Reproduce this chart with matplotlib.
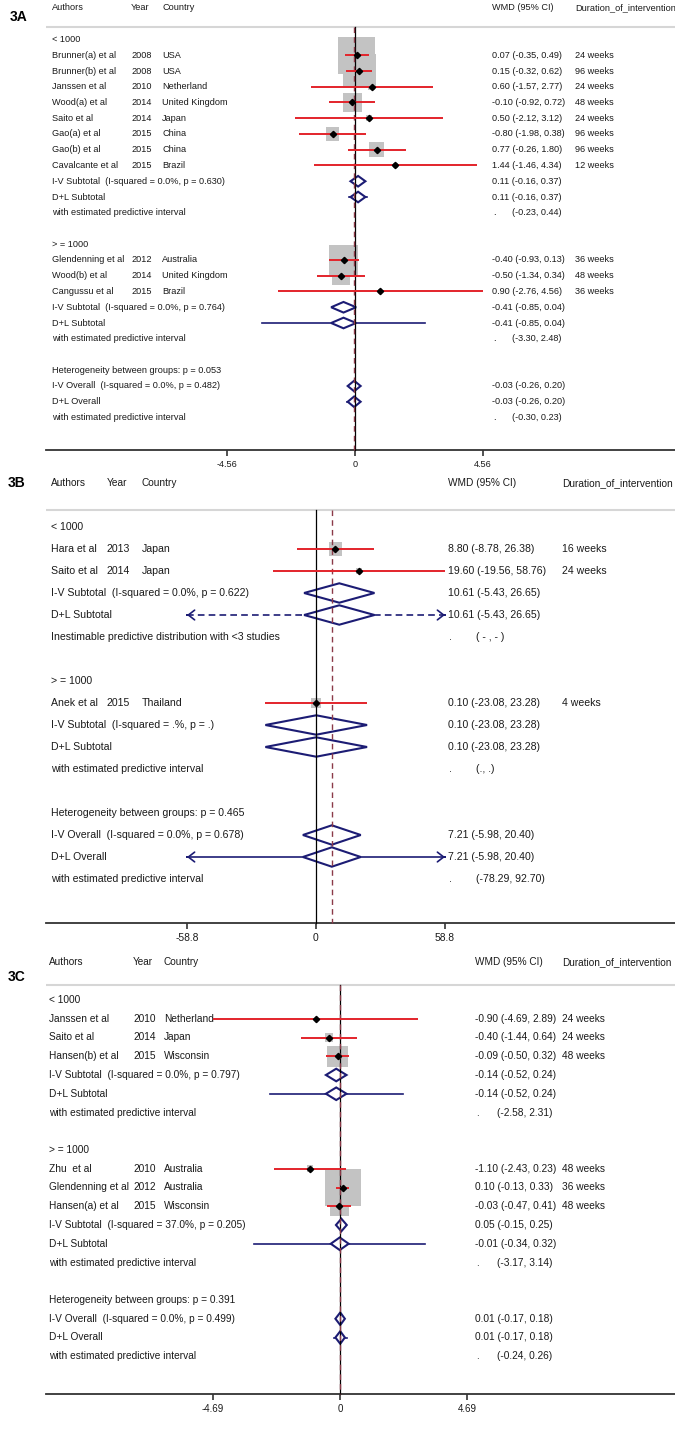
import numpy as np
import matplotlib
matplotlib.use("Agg")
import matplotlib.pyplot as plt
from matplotlib.patches import Rectangle, Polygon

plt.rcParams['font.family'] = ['Liberation Sans', 'DejaVu Sans']

W, H = 675, 1429
NAVY = '#1c1c74'
RED = '#e3242b'
BOX = '#c3c3c3'
REFLINE = '#8b3a48'
TXT = '#1a1a1a'

# ---------------- 3A ----------------
group_names_A = ["< 1000", "> = 1000"]
authors_A = ["Brunner(a) et al", "Brunner(b) et al", "Janssen et al", "Wood(a) et al",
             "Saito et al", "Gao(a) et al", "Gao(b) et al", "Cavalcante et al",
             "Glendenning et al", "Wood(b) et al", "Cangussu et al"]
years_A = [2008, 2008, 2010, 2014, 2014, 2015, 2015, 2015, 2012, 2014, 2015]
countries_A = ["USA", "USA", "Netherland", "United Kingdom", "Japan", "China", "China",
               "Brazil", "Australia", "United Kingdom", "Brazil"]
group_A = [0, 0, 0, 0, 0, 0, 0, 0, 1, 1, 1]
wmd_A = [0.07, 0.15, 0.60, -0.10, 0.50, -0.80, 0.77, 1.44, -0.40, -0.50, 0.90]
lo_A = [-0.35, -0.32, -1.57, -0.92, -2.12, -1.98, -0.26, -1.46, -0.93, -1.34, -2.76]
hi_A = [0.49, 0.62, 2.77, 0.72, 3.12, 0.38, 1.80, 4.34, 0.13, 0.34, 4.56]
weeks_A = [24, 96, 24, 48, 24, 96, 96, 12, 36, 48, 36]
sub_iv_A = [(0.11, -0.16, 0.37), (-0.41, -0.85, 0.04)]
sub_het_A = ["(I-squared = 0.0%, p = 0.630)", "(I-squared = 0.0%, p = 0.764)"]
sub_dl_A = [(0.11, -0.16, 0.37), (-0.41, -0.85, 0.04)]
sub_pred_A = [(-0.23, 0.44), (-3.30, 2.48)]
between_p_A = "0.053"
all_iv_A = (-0.03, -0.26, 0.20)
all_het_A = "(I-squared = 0.0%, p = 0.482)"
all_dl_A = (-0.03, -0.26, 0.20)
all_pred_A = (-0.30, 0.23)
ticks_A = [-4.56, 0, 4.56]
ticklabels_A = ["-4.56", "0", "4.56"]

# ---------------- 3B ----------------
group_names_B = ["< 1000", "> = 1000"]
authors_B = ["Hara et al", "Saito et al", "Anek et al"]
years_B = [2013, 2014, 2015]
countries_B = ["Japan", "Japan", "Thailand"]
group_B = [0, 0, 1]
wmd_B = [8.80, 19.60, 0.10]
lo_B = [-8.78, -19.56, -23.08]
hi_B = [26.38, 58.76, 23.28]
weeks_B = [16, 24, 4]
sub_iv_B = [(10.61, -5.43, 26.65), (0.10, -23.08, 23.28)]
sub_het_B = ["(I-squared = 0.0%, p = 0.622)", "(I-squared = .%, p = .)"]
sub_dl_B = [(10.61, -5.43, 26.65), (0.10, -23.08, 23.28)]
sub_pred_B = [(-np.inf, np.inf), (np.nan, np.nan)]   # inf: inestimable, nan: missing
between_p_B = "0.465"
all_iv_B = (7.21, -5.98, 20.40)
all_het_B = "(I-squared = 0.0%, p = 0.678)"
all_dl_B = (7.21, -5.98, 20.40)
all_pred_B = (-78.29, 92.70)
ticks_B = [-58.8, 0, 58.8]
ticklabels_B = ["-58.8", "0", "58.8"]

# ---------------- 3C ----------------
group_names_C = ["< 1000", "> = 1000"]
authors_C = ["Janssen et al", "Saito et al", "Hansen(b) et al", "Zhu  et al",
             "Glendenning et al", "Hansen(a) et al"]
years_C = [2010, 2014, 2015, 2010, 2012, 2015]
countries_C = ["Netherland", "Japan", "Wisconsin", "Australia", "Australia", "Wisconsin"]
group_C = [0, 0, 0, 1, 1, 1]
wmd_C = [-0.90, -0.40, -0.09, -1.10, 0.10, -0.03]
lo_C = [-4.69, -1.44, -0.50, -2.43, -0.13, -0.47]
hi_C = [2.89, 0.64, 0.32, 0.23, 0.33, 0.41]
weeks_C = [24, 24, 48, 48, 36, 48]
sub_iv_C = [(-0.14, -0.52, 0.24), (0.05, -0.15, 0.25)]
sub_het_C = ["(I-squared = 0.0%, p = 0.797)", "(I-squared = 37.0%, p = 0.205)"]
sub_dl_C = [(-0.14, -0.52, 0.24), (-0.01, -0.34, 0.32)]
sub_pred_C = [(-2.58, 2.31), (-3.17, 3.14)]
between_p_C = "0.391"
all_iv_C = (0.01, -0.17, 0.18)
all_het_C = "(I-squared = 0.0%, p = 0.499)"
all_dl_C = (0.01, -0.17, 0.18)
all_pred_C = (-0.24, 0.26)
ticks_C = [-4.69, 0, 4.69]
ticklabels_C = ["-4.69", "0", "4.69"]


def ci_text(e, l, h):
    return f"{e:.2f} ({l:.2f}, {h:.2f})"


fig = plt.figure(figsize=(W / 100, H / 100), dpi=100)


def draw_panel(tag, top, bottom, lay, d):
    ax = fig.add_axes([0, 1 - bottom / H, 1, (bottom - top) / H])
    x0 = lay['zero_px']
    sx = lay['tick_px'] / d['ticks'][-1]
    row0, sp = lay['row0'], lay['row_px']
    ax.set_xlim(-x0 / sx, (W - x0) / sx)
    ax.set_ylim((bottom - row0) / sp, (top - row0) / sp)
    px = lambda p: (p - x0) / sx
    py = lambda p: (p - row0) / sp
    fs = lay['fs']
    xr = (d['ticks'][0], d['ticks'][-1])
    hh = lay['diamond_px'] / sp

    def txt(xp, r, s, size=None, **kw):
        ax.text(px(xp), r, s, fontsize=size or fs, color=TXT, va='center', ha='left', **kw)

    cols = lay['cols']
    # header
    rh = py(lay['header_px'])
    hfs = lay['hdr_fs']
    txt(cols[0], rh, "Authors", hfs)
    txt(cols[1], rh, "Year", hfs)
    txt(cols[2], rh, "Country", hfs)
    txt(cols[3], rh, "WMD (95% CI)", hfs)
    txt(cols[4], rh, "Duration_of_intervention", hfs)
    ax.text(px(lay['tag_x']), py(lay['tag_y']), tag, fontsize=10, fontweight='bold',
            color='black', va='center', ha='left')
    rsep = py(lay['sep_px'])
    ax.plot([px(46), px(W)], [rsep, rsep], color='#d6d6d6', lw=1.5, zorder=1,
            solid_capstyle='butt')
    raxis = py(lay['axis_px'])

    def diamond(e, l, h, r):
        ax.add_patch(Polygon([(l, r), (e, r - hh), (h, r), (e, r + hh)], closed=True,
                             fill=False, edgecolor=NAVY, lw=1.5, zorder=3))

    def arrow(xe, r, direction):
        ax.annotate('', xy=(xe, r), xytext=(xe - direction * 1e-6, r),
                    arrowprops=dict(arrowstyle='->,head_length=0.45,head_width=0.35',
                                    color=NAVY, lw=1.2, shrinkA=0, shrinkB=0), zorder=3)

    def pred_line(dl, pred, r):
        pl, ph = pred
        if np.isnan(pl):
            return
        ls = (0, (4, 2.5)) if np.isinf(pl) else '-'
        a, b = max(pl, xr[0]), min(ph, xr[1])
        ax.plot([a, dl[1]], [r, r], color=NAVY, lw=1.2, ls=ls, zorder=2)
        ax.plot([dl[2], b], [r, r], color=NAVY, lw=1.2, ls=ls, zorder=2)
        if pl < xr[0]:
            arrow(a, r, -1)
        if ph > xr[1]:
            arrow(b, r, 1)

    def pred_text(pred, r):
        pl, ph = pred
        txt(cols[3] + 1, r, ".")
        if np.isinf(pl):
            s = "( - , - )"
        elif np.isnan(pl):
            s = "(., .)"
        else:
            s = f"({pl:.2f}, {ph:.2f})"
        txt(cols[3] + lay['dot_off'], r, s)

    wmd, lo, hi = np.array(d['wmd']), np.array(d['lo']), np.array(d['hi'])
    wts = 1.0 / (hi - lo) ** 2
    sides = lay['max_box'] * np.sqrt(wts / wts.max())

    r = 0
    for g, gname in enumerate(d['groups']):
        txt(cols[0], r, gname)
        r += 1
        for i in [k for k, gg in enumerate(d['group']) if gg == g]:
            txt(cols[0], r, d['authors'][i])
            txt(cols[1], r, str(d['years'][i]))
            txt(cols[2], r, d['countries'][i])
            txt(cols[3], r, ci_text(wmd[i], lo[i], hi[i]))
            txt(cols[4], r, f"{d['weeks'][i]} weeks")
            s = sides[i]
            ax.add_patch(Rectangle((wmd[i] - s / 2 / sx, r - s * lay['box_aspect'] / 2 / sp),
                                   s / sx, s * lay['box_aspect'] / sp,
                                   facecolor=BOX, edgecolor='none', zorder=1))
            ax.plot([lo[i], hi[i]], [r, r], color=RED, lw=1.4, zorder=4,
                    solid_capstyle='butt')
            ax.plot(wmd[i], r, marker='D', ms=3.2, color='black', zorder=5)
            r += 1
        iv = d['sub_iv'][g]
        txt(cols[0], r, "I-V Subtotal  " + d['sub_het'][g])
        txt(cols[3], r, ci_text(*iv))
        diamond(*iv, r)
        r += 1
        dl = d['sub_dl'][g]
        txt(cols[0], r, "D+L Subtotal")
        txt(cols[3], r, ci_text(*dl))
        pred_line(dl, d['sub_pred'][g], r)
        diamond(*dl, r)
        r += 1
        if np.isinf(d['sub_pred'][g][0]):
            txt(cols[0], r, "Inestimable predictive distribution with <3 studies")
        else:
            txt(cols[0], r, "with estimated predictive interval")
        pred_text(d['sub_pred'][g], r)
        r += 2
    txt(cols[0], r, "Heterogeneity between groups: p = " + d['between_p'])
    r += 1
    txt(cols[0], r, "I-V Overall  " + d['all_het'])
    txt(cols[3], r, ci_text(*d['all_iv']))
    diamond(*d['all_iv'], r)
    r += 1
    txt(cols[0], r, "D+L Overall")
    txt(cols[3], r, ci_text(*d['all_dl']))
    pred_line(d['all_dl'], d['all_pred'], r)
    diamond(*d['all_dl'], r)
    r += 1
    txt(cols[0], r, "with estimated predictive interval")
    pred_text(d['all_pred'], r)

    # reference lines
    ax.plot([0, 0], [rsep, raxis], color='black', lw=0.9, zorder=3.5)
    est = d['all_dl'][0]
    ax.plot([est, est], [rsep, raxis], color=REFLINE, lw=1.0, ls=(0, (4, 3)), zorder=3.6)

    # x axis
    for s in ['left', 'right', 'top']:
        ax.spines[s].set_visible(False)
    ax.spines['bottom'].set_position(('data', raxis))
    ax.spines['bottom'].set_bounds(px(46), px(W))
    ax.spines['bottom'].set_color('#333333')
    ax.spines['bottom'].set_linewidth(1.3)
    ax.set_yticks([])
    ax.set_xticks(d['ticks'])
    ax.set_xticklabels(d['ticklabels'])
    ax.tick_params(axis='x', direction='out', length=4.5, width=1.2, color='#333333',
                   labelsize=lay['tick_fs'], labelcolor=TXT, pad=3)
    ax.patch.set_visible(False)


draw_panel("3A", 0, 470,
           dict(zero_px=355, tick_px=128, row0=39.5, row_px=15.75, header_px=8, sep_px=27,
                axis_px=450, fs=6.6, hdr_fs=6.6, tick_fs=6.6, cols=[52, 131, 162, 492, 575],
                dot_off=20, tag_x=10, tag_y=17, diamond_px=5.3, max_box=37, box_aspect=1.0),
           dict(groups=group_names_A, authors=authors_A, years=years_A, countries=countries_A,
                group=group_A, wmd=wmd_A, lo=lo_A, hi=hi_A, weeks=weeks_A,
                sub_iv=sub_iv_A, sub_het=sub_het_A, sub_dl=sub_dl_A, sub_pred=sub_pred_A,
                between_p=between_p_A, all_iv=all_iv_A, all_het=all_het_A, all_dl=all_dl_A,
                all_pred=all_pred_A, ticks=ticks_A, ticklabels=ticklabels_A))

draw_panel("3B", 470, 960,
           dict(zero_px=316, tick_px=129, row0=527, row_px=22, header_px=483, sep_px=510,
                axis_px=923, fs=7.6, hdr_fs=7.3, tick_fs=7.4, cols=[51, 107, 142, 448, 562],
                dot_off=28, tag_x=8, tag_y=483, diamond_px=9.7, max_box=13, box_aspect=1.05),
           dict(groups=group_names_B, authors=authors_B, years=years_B, countries=countries_B,
                group=group_B, wmd=wmd_B, lo=lo_B, hi=hi_B, weeks=weeks_B,
                sub_iv=sub_iv_B, sub_het=sub_het_B, sub_dl=sub_dl_B, sub_pred=sub_pred_B,
                between_p=between_p_B, all_iv=all_iv_B, all_het=all_het_B, all_dl=all_dl_B,
                all_pred=all_pred_B, ticks=ticks_B, ticklabels=ticklabels_B))

draw_panel("3C", 960, 1429,
           dict(zero_px=340, tick_px=127, row0=1000, row_px=18.75, header_px=962, sep_px=985,
                axis_px=1394, fs=7.3, hdr_fs=7.2, tick_fs=7.0, cols=[49, 133, 164, 475, 562],
                dot_off=22, tag_x=8, tag_y=977, diamond_px=6.3, max_box=36, box_aspect=1.05),
           dict(groups=group_names_C, authors=authors_C, years=years_C, countries=countries_C,
                group=group_C, wmd=wmd_C, lo=lo_C, hi=hi_C, weeks=weeks_C,
                sub_iv=sub_iv_C, sub_het=sub_het_C, sub_dl=sub_dl_C, sub_pred=sub_pred_C,
                between_p=between_p_C, all_iv=all_iv_C, all_het=all_het_C, all_dl=all_dl_C,
                all_pred=all_pred_C, ticks=ticks_C, ticklabels=ticklabels_C))

fig.savefig("out.png", dpi=100, facecolor='white')
